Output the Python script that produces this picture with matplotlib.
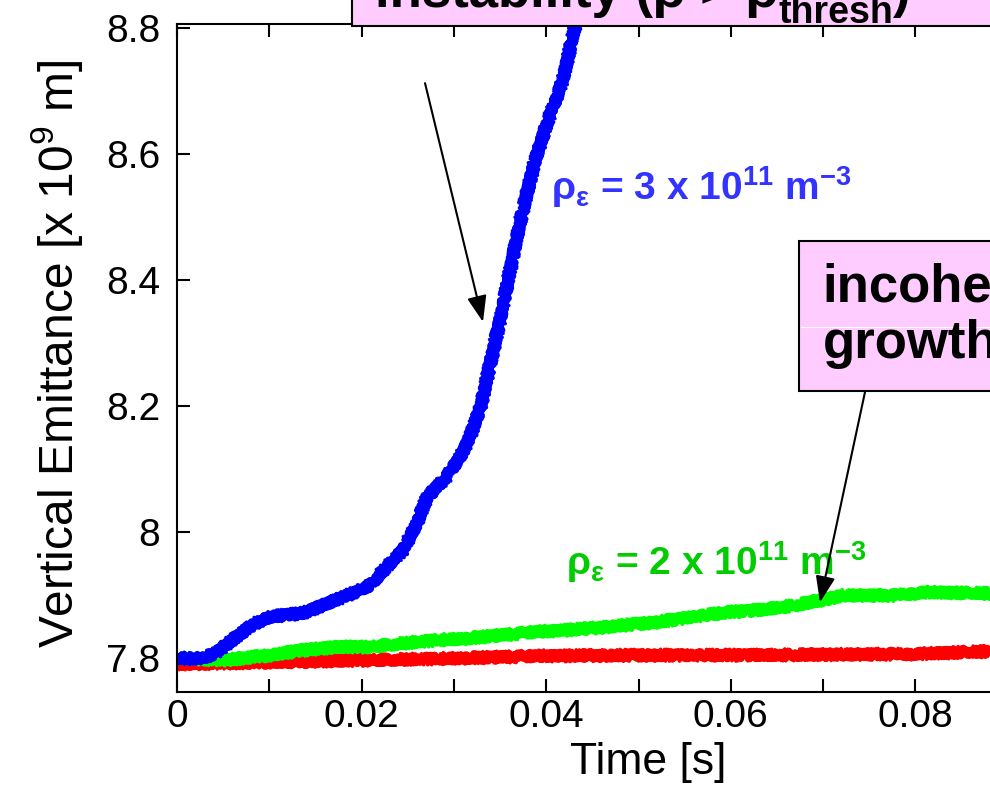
import matplotlib
matplotlib.use("Agg")
import matplotlib.pyplot as plt
import matplotlib.patches as patches
from matplotlib.ticker import MultipleLocator, FormatStrFormatter

plt.rcParams['font.family'] = ['Liberation Sans', 'DejaVu Sans']
plt.rcParams['mathtext.default'] = 'regular'

# values (time in s, emittance in 1e-9 m)
t_blue = [0, 0.002, 0.004, 0.0065, 0.0085, 0.0101, 0.0137, 0.0173, 0.0191, 0.0209,
          0.0227, 0.0245, 0.026, 0.0271, 0.0292, 0.0307, 0.0317, 0.0328, 0.035,
          0.0372, 0.0388, 0.0402, 0.0418, 0.0431, 0.045]
e_blue = [7.80, 7.798, 7.805, 7.834, 7.855, 7.865, 7.871, 7.892, 7.903, 7.915,
          7.944, 7.971, 8.014, 8.055, 8.087, 8.119, 8.150, 8.193, 8.336,
          8.494, 8.59, 8.653, 8.717, 8.80, 8.92]

t_green = [0, 0.005, 0.0101, 0.0137, 0.0173, 0.0209, 0.0245, 0.0281, 0.0317, 0.0353,
           0.0389, 0.0422, 0.0451, 0.0487, 0.0523, 0.0559, 0.0596, 0.0632, 0.0668,
           0.0697, 0.0722, 0.0776, 0.0812, 0.088, 0.095]
e_green = [7.80, 7.796, 7.804, 7.812, 7.817, 7.817, 7.823, 7.828, 7.831, 7.836,
           7.841, 7.844, 7.847, 7.852, 7.857, 7.865, 7.872, 7.876, 7.883,
           7.891, 7.899, 7.899, 7.904, 7.902, 7.905]

t_red = [0, 0.01, 0.02, 0.03, 0.04, 0.05, 0.06, 0.07, 0.08, 0.088, 0.095]
e_red = [7.79, 7.793, 7.796, 7.799, 7.803, 7.804, 7.804, 7.805, 7.806, 7.81, 7.81]

fig = plt.figure(figsize=(9.9, 7.87), dpi=100)
# axes runs on past the right edge of the picture (to 0.1 s)
ax = fig.add_axes([0.1788, 0.1207, 0.9323, 0.8488])

# thick jittery stroke to look like the noisy simulation traces
for t, e, c in [(t_red, e_red, '#ff0000'), (t_green, e_green, '#00ff00'), (t_blue, e_blue, '#0000ff')]:
    ln, = ax.plot(t, e, color=c, lw=6, solid_joinstyle='round')
    ln.set_sketch_params(scale=3, length=2, randomness=3)
    ln2, = ax.plot(t, e, color=c, lw=2.5, solid_joinstyle='round')
    ln2.set_sketch_params(scale=6, length=2, randomness=4)

ax.set_xlim(0, 0.1)
ax.set_ylim(7.7456, 8.8059)
ax.xaxis.set_major_locator(MultipleLocator(0.02))
ax.xaxis.set_minor_locator(MultipleLocator(0.01))
ax.yaxis.set_major_locator(MultipleLocator(0.2))
ax.xaxis.set_major_formatter(FormatStrFormatter('%g'))
ax.yaxis.set_major_formatter(FormatStrFormatter('%g'))
ax.tick_params(which='both', direction='in', length=9.4, width=1.5, top=True, right=True)
ax.tick_params(axis='y', labelsize=28, pad=12)
ax.tick_params(axis='x', labelsize=28, pad=5)
for s in ax.spines.values():
    s.set_linewidth(1.5)

ax.set_xlabel('Time [s]', fontsize=32)
ax.xaxis.set_label_coords(0.511, -0.075)
ax.set_ylabel('Vertical Emittance [x 10$^{9}$ m]', fontsize=34.5)
ax.yaxis.set_label_coords(-0.1, 0.507)

ax.text(0.0405, 8.5265, 'ρ$_{ε}$ = 3 x 10$^{11}$ m$^{-3}$', color='#3333ff',
        fontsize=28, fontweight='bold', va='baseline', ha='left')
ax.text(0.04215, 7.9313, 'ρ$_{ε}$ = 2 x 10$^{11}$ m$^{-3}$', color='#00cc00',
        fontsize=28, fontweight='bold', va='baseline', ha='left')

arrow = dict(arrowstyle='-|>,head_length=0.8,head_width=0.3', lw=1.5, color='black',
             mutation_scale=20, shrinkA=0, shrinkB=0)
ax.annotate('', xy=(0.03315, 8.333), xytext=(0.02687, 8.712), arrowprops=arrow)
ax.annotate('', xy=(0.06966, 7.888), xytext=(0.07454, 8.2217), arrowprops=arrow)

# pink label boxes
fig.patches.append(patches.Rectangle((352 / 990, 0.967), 0.8, 0.1, transform=fig.transFigure,
                                     facecolor='#ffccff', edgecolor='black', lw=1.5, zorder=5))
renderer = fig.canvas.get_renderer()
t1 = fig.text(375 / 990, (787 - 7) / 787, 'instability (ρ > ρ', fontsize=38,
              fontweight='bold', va='baseline', ha='left', zorder=6)
x1 = t1.get_window_extent(renderer).x1 / 990
t2 = fig.text(x1, (787 - 23) / 787, 'thresh', fontsize=27,
              fontweight='bold', va='baseline', ha='left', zorder=6)
x2 = t2.get_window_extent(renderer).x1 / 990
fig.text(x2, (787 - 7) / 787, ')', fontsize=38,
         fontweight='bold', va='baseline', ha='left', zorder=6)

fig.patches.append(patches.Rectangle((799 / 990, 0.5032), 0.4, 0.1906, transform=fig.transFigure,
                                     facecolor='#ffccff', edgecolor='black', lw=1.5, zorder=5))
fig.lines.append(plt.Line2D([801 / 990, 1], [(787 - 327) / 787] * 2, transform=fig.transFigure,
                            color='white', lw=0.8, zorder=6))
fig.text(822 / 990, 0.6175, 'incoherent', fontsize=38, fontweight='bold',
         va='baseline', ha='left', zorder=7)
fig.text(823 / 990, (787 - 358) / 787, 'growth', fontsize=38, fontweight='bold',
         va='baseline', ha='left', zorder=7)

fig.savefig('out.png', dpi=100)
